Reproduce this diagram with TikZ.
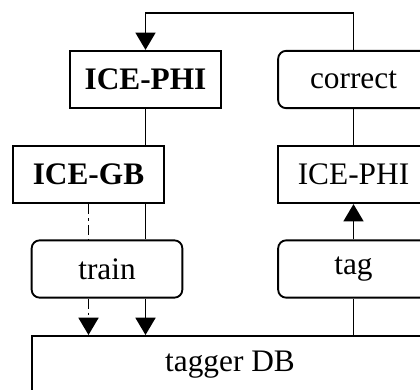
\documentclass[tikz,border=0pt]{standalone}
\usepackage{fontspec}
\setmainfont{Liberation Serif}
\usetikzlibrary{arrows.meta}
\begin{document}
\begin{tikzpicture}[x=0.75pt,y=-0.75pt,
  every node/.style={font=\fontsize{23.5}{28}\selectfont},
  box/.style={draw,line width=1.4pt,minimum width=113pt,minimum height=43pt,inner sep=0pt},
  proc/.style={box,rounded corners=6pt},
  flow/.style={line width=1.4pt},
  arr/.style={flow,-{Triangle[width=15pt,length=13pt]}},
  dashdot/.style={dash pattern=on 7.5pt off 3pt on 2pt off 3pt}]
\clip (0,0) rectangle (420,389);
\useasboundingbox (0,0) rectangle (420,389);
% left column
\node[box] (phiL) at (145.5,79.5) {\textbf{ICE-PHI}};
\node[box] (gb) at (88.5,174.5) {\textbf{ICE-GB}};
\node[proc] (train) at (107,269) {train};
% right column
\node[proc] (correct) at (353.5,79.5) {correct};
\node[box] (phiR) at (353.5,174.5) {ICE-PHI};
\node[proc] (tag) at (353.5,269) {tag};
% database
\node[box,minimum width=298.5pt,minimum height=47pt,anchor=north west] (db) at (31,335) {};
\node (dblabel) at (230,365) {tagger DB};
\coordinate (loop) at (0,13);
% connectors
\draw[arr] (correct.north) -- (correct.north |- loop) -| (phiL.north);
\draw[flow] (phiL.south) -- (phiL.south |- gb.north);
\draw[flow] (correct.south) -- (phiR.north);
\draw[flow] (phiL.south |- gb.south) -- (phiL.south |- train.north);
\draw[arr] (phiL.south |- train.south) -- (phiL.south |- db.north);
\draw[flow,dashdot] (gb.south) -- (gb.south |- train.north);
\draw[arr,dashdot] (gb.south |- train.south) -- (gb.south |- db.north);
\draw[arr] (tag.north) -- (phiR.south);
\draw[flow] (tag.south |- db.north) -- (tag.south);
\end{tikzpicture}
\end{document}
